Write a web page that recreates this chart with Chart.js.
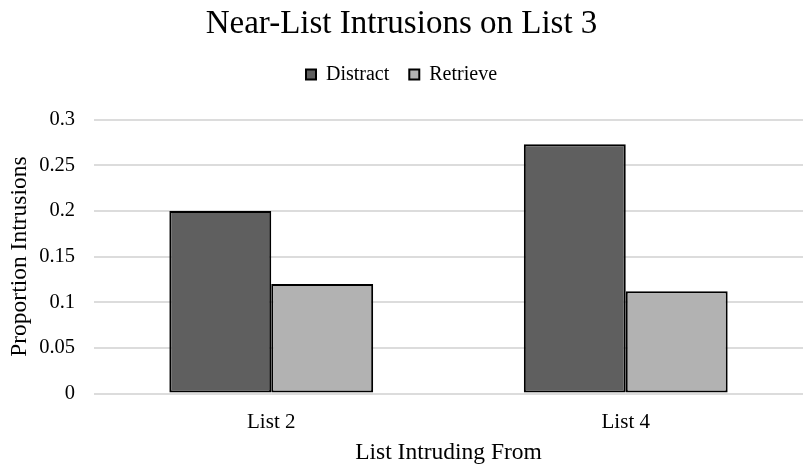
<!DOCTYPE html>
<html>
<head>
<meta charset="utf-8">
<script src="https://cdn.jsdelivr.net/npm/chart.js@4/dist/chart.umd.min.js"></script>
<style>
  html, body { margin: 0; padding: 0; background: #ffffff; }
  #wrap { width: 808px; height: 470px; }
</style>
</head>
<body>
<div id="wrap"><canvas id="chart" width="808" height="470"></canvas></div>
<script>
// Intrusion proportions by source list
const categories = ["List 2", "List 4"];
const distract = [0.2, 0.273];
const retrieve = [0.12, 0.112];
const yTicks = [0, 0.05, 0.1, 0.15, 0.2, 0.25, 0.3];

const serif = "'Liberation Serif', 'Times New Roman', serif";

// Extra room between the legend row and the plot area
const legendGap = {
  id: "legendGap",
  beforeInit(chart) {
    const fit = chart.legend.fit;
    chart.legend.fit = function () {
      fit.call(this);
      this.height += 25;
    };
  }
};

new Chart(document.getElementById("chart"), {
  type: "bar",
  data: {
    labels: categories,
    datasets: [
      {
        label: "Distract",
        data: distract,
        backgroundColor: "#5f5f5f",
        borderColor: "#000000",
        borderWidth: 2,
        borderSkipped: false
      },
      {
        label: "Retrieve",
        data: retrieve,
        backgroundColor: "#b2b2b2",
        borderColor: "#000000",
        borderWidth: 2,
        borderSkipped: false
      }
    ]
  },
  plugins: [legendGap],
  options: {
    responsive: false,
    animation: false,
    devicePixelRatio: 1,
    layout: { padding: { top: 2, right: 5, bottom: 3, left: 0 } },
    datasets: {
      bar: { categoryPercentage: 0.575, barPercentage: 1.0 }
    },
    plugins: {
      title: {
        display: true,
        text: "Near-List Intrusions on List 3",
        color: "#000000",
        font: { family: serif, size: 33, weight: "normal", lineHeight: 1.2 },
        padding: { top: 3, bottom: 0 }
      },
      legend: {
        display: true,
        position: "top",
        labels: {
          color: "#000000",
          font: { family: serif, size: 20 },
          boxWidth: 10,
          boxHeight: 10,
          padding: 20
        }
      },
      tooltip: { enabled: false }
    },
    scales: {
      x: {
        grid: { display: false },
        border: { display: false },
        ticks: {
          color: "#000000",
          font: { family: serif, size: 21 },
          padding: 8
        },
        title: {
          display: true,
          text: "List Intruding From",
          color: "#000000",
          font: { family: serif, size: 23.5 },
          padding: { top: -4, bottom: 0 }
        }
      },
      y: {
        min: 0,
        max: 0.3,
        afterBuildTicks: (axis) => { axis.ticks = yTicks.map(v => ({ value: v })); },
        afterFit: (axis) => { axis.width = 94; },
        grid: { color: "#dcdcdc", lineWidth: 2, drawTicks: false },
        border: { display: false },
        ticks: {
          color: "#000000",
          font: { family: serif, size: 20.5 },
          padding: 19,
          callback: (v) => String(Number(v.toFixed(2)))
        },
        title: {
          display: true,
          text: "Proportion Intrusions",
          color: "#000000",
          font: { family: serif, size: 23.5 },
          padding: { top: 6, bottom: 2 }
        }
      }
    }
  }
});
</script>
</body>
</html>
